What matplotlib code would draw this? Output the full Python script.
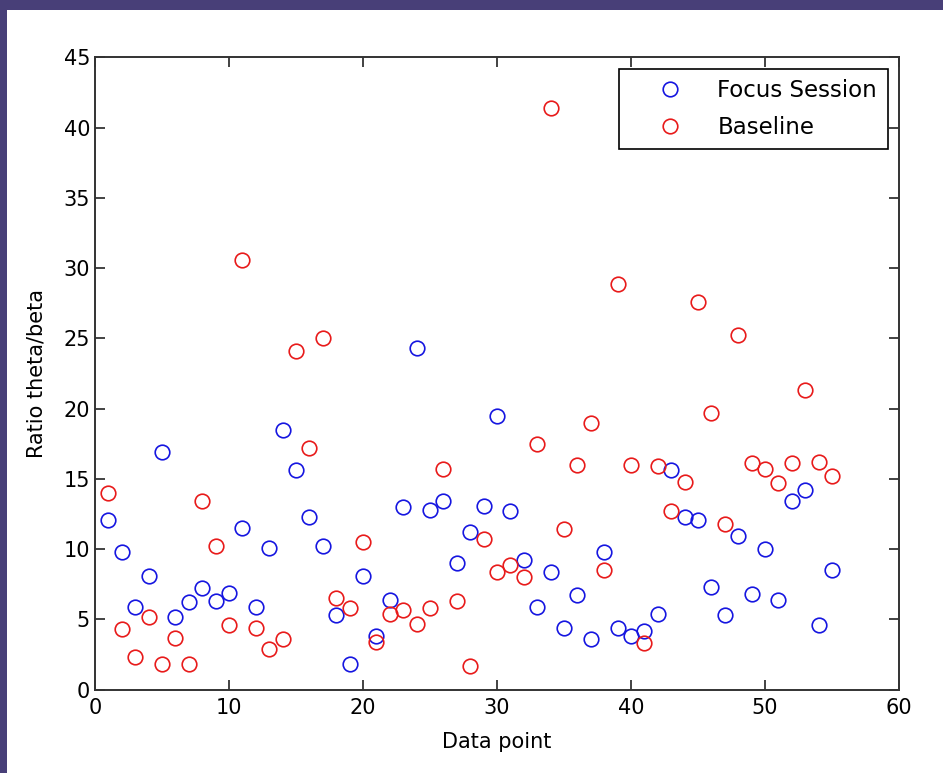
import numpy as np
import matplotlib
matplotlib.use('Agg')
import matplotlib.pyplot as plt
from matplotlib.patches import Rectangle

# data point index and theta/beta ratios
points = list(range(1, 56))
focus = [12.1, 9.8, 5.9, 8.1, 16.9, 5.2, 6.2, 7.2, 6.3, 6.9,
         11.5, 5.9, 10.1, 18.5, 15.6, 12.3, 10.2, 5.3, 1.8, 8.1,
         3.8, 6.4, 13.0, 24.3, 12.8, 13.4, 9.0, 11.2, 13.1, 19.5,
         12.7, 9.2, 5.9, 8.4, 4.4, 6.7, 3.6, 9.8, 4.4, 3.8,
         4.2, 5.4, 15.6, 12.3, 12.1, 7.3, 5.3, 10.9, 6.8, 10.0,
         6.4, 13.4, 14.2, 4.6, 8.5]
baseline = [14.0, 4.3, 2.3, 5.2, 1.8, 3.7, 1.8, 13.4, 10.2, 4.6,
            30.6, 4.4, 2.9, 3.6, 24.1, 17.2, 25.0, 6.5, 5.8, 10.5,
            3.4, 5.4, 5.7, 4.7, 5.8, 15.7, 6.3, 1.7, 10.7, 8.4,
            8.9, 8.0, 17.5, 41.4, 11.4, 16.0, 19.0, 8.5, 28.9, 16.0,
            3.3, 15.9, 12.7, 14.8, 27.6, 19.7, 11.8, 25.2, 16.1, 15.7,
            14.7, 16.1, 21.3, 16.2, 15.2]

plt.rcParams.update({'font.size': 15, 'font.family': 'DejaVu Sans'})

fig = plt.figure(figsize=(9.43, 7.73), dpi=100)
fig.patch.set_facecolor('white')
# purple frame strips at top and left
fig.patches.append(Rectangle((0, 1 - 10 / 773), 1, 10 / 773, transform=fig.transFigure,
                             facecolor='#483f78', edgecolor='none', zorder=-1))
fig.patches.append(Rectangle((0, 0), 7 / 943, 1, transform=fig.transFigure,
                             facecolor='#483f78', edgecolor='none', zorder=-1))

ax = fig.add_axes([0.1007, 0.1079, 0.8526, 0.818])
ax.plot(points, focus, 'o', mfc='none', mec='#1515e0', mew=1.2, ms=10.5, label='Focus Session')
ax.plot(points, baseline, 'o', mfc='none', mec='#e81a1a', mew=1.2, ms=10.5, label='Baseline')

ax.set_xlim(0, 60)
ax.set_ylim(0, 45)
ax.set_xticks(np.arange(0, 61, 10))
ax.set_yticks(np.arange(0, 46, 5))
ax.tick_params(direction='in', top=True, right=True, length=7, width=1.2, color='#222222')
ax.tick_params(axis='x', pad=6)
for s in ax.spines.values():
    s.set_linewidth(1.4)
    s.set_color('#333333')

ax.set_xlabel('Data point', labelpad=10)
ax.set_ylabel('Ratio theta/beta', labelpad=12)

leg = ax.legend(loc='upper right', numpoints=1, fancybox=False, framealpha=1,
                edgecolor='black', handlelength=3.6, handletextpad=0.25,
                labelspacing=0.6, borderpad=0.45,
                borderaxespad=0.5, fontsize=16.5)
leg.get_frame().set_linewidth(1.2)

fig.savefig('out.png', dpi=100)
